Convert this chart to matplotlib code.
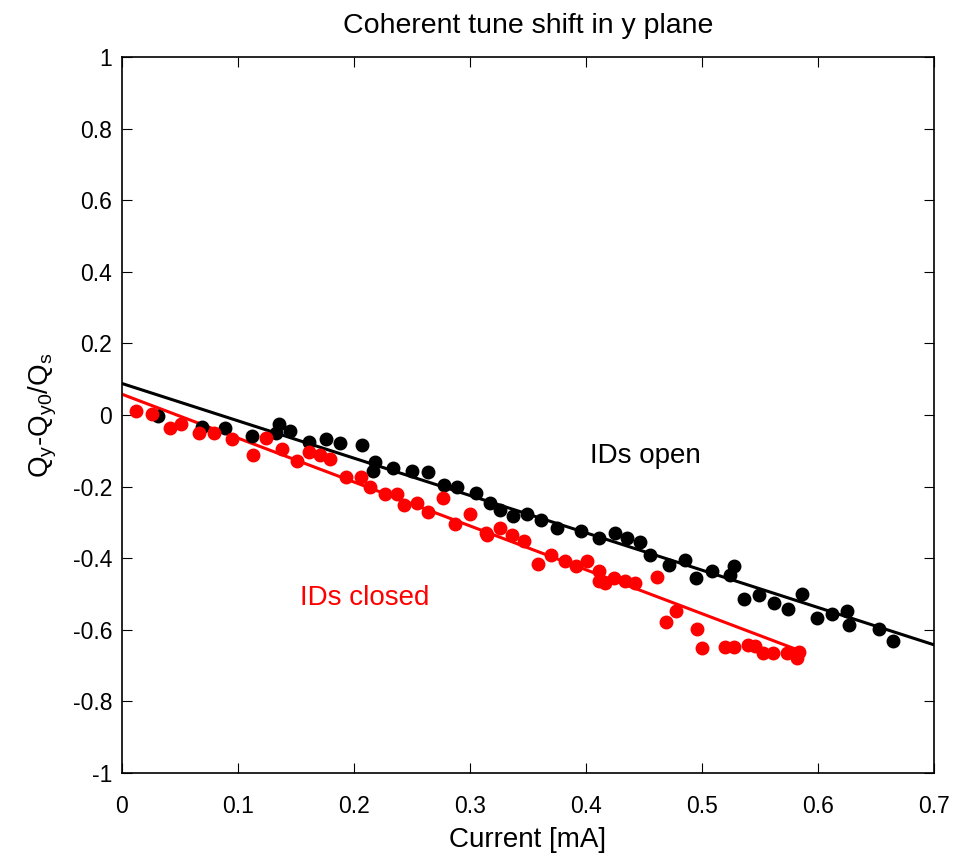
import numpy as np
import matplotlib
matplotlib.use('Agg')
import matplotlib.pyplot as plt

plt.rcParams['font.family'] = ['Liberation Sans', 'DejaVu Sans']
plt.rcParams['mathtext.default'] = 'regular'

# IDs open (black)
open_x = [0.031, 0.069, 0.089, 0.112, 0.133, 0.135, 0.145, 0.161, 0.176, 0.188,
          0.207, 0.216, 0.218, 0.234, 0.250, 0.264, 0.278, 0.289, 0.305, 0.317,
          0.326, 0.337, 0.349, 0.361, 0.375, 0.396, 0.411, 0.425, 0.435, 0.447,
          0.455, 0.472, 0.485, 0.495, 0.509, 0.524, 0.528, 0.536, 0.549, 0.562,
          0.574, 0.586, 0.599, 0.612, 0.625, 0.627, 0.653, 0.665]
open_y = [-0.003, -0.033, -0.037, -0.059, -0.051, -0.026, -0.045, -0.075, -0.066, -0.079,
          -0.084, -0.156, -0.132, -0.148, -0.156, -0.158, -0.196, -0.202, -0.219, -0.247,
          -0.265, -0.282, -0.277, -0.293, -0.316, -0.323, -0.343, -0.330, -0.344, -0.356,
          -0.391, -0.419, -0.405, -0.454, -0.435, -0.447, -0.421, -0.515, -0.503, -0.524,
          -0.541, -0.501, -0.568, -0.556, -0.548, -0.587, -0.599, -0.630]

# IDs closed (red)
closed_x = [0.012, 0.026, 0.041, 0.051, 0.066, 0.079, 0.095, 0.113, 0.124, 0.138,
            0.151, 0.161, 0.171, 0.179, 0.193, 0.206, 0.214, 0.227, 0.237, 0.243,
            0.254, 0.264, 0.277, 0.287, 0.300, 0.314, 0.315, 0.326, 0.336, 0.347,
            0.359, 0.370, 0.382, 0.391, 0.401, 0.411, 0.411, 0.416, 0.424, 0.434,
            0.442, 0.461, 0.469, 0.478, 0.496, 0.500, 0.520, 0.528, 0.540, 0.546,
            0.553, 0.561, 0.573, 0.582, 0.584]
closed_y = [0.011, 0.002, -0.037, -0.026, -0.051, -0.049, -0.068, -0.112, -0.065, -0.095,
            -0.128, -0.102, -0.112, -0.124, -0.174, -0.174, -0.200, -0.221, -0.222, -0.251,
            -0.245, -0.272, -0.233, -0.305, -0.277, -0.329, -0.334, -0.317, -0.335, -0.352,
            -0.416, -0.391, -0.407, -0.422, -0.407, -0.437, -0.463, -0.468, -0.456, -0.463,
            -0.468, -0.453, -0.577, -0.547, -0.599, -0.652, -0.647, -0.647, -0.642, -0.645,
            -0.666, -0.664, -0.664, -0.680, -0.661]

# linear fits
open_fit_x = [0.0, 0.7]
open_fit_y = [0.088, -0.642]
closed_fit_x = [0.0, 0.584]
closed_fit_y = [0.058, -0.658]

fig = plt.figure(figsize=(9.55, 8.56), dpi=100)
ax = fig.add_axes([0.1277, 0.097, 0.8503, 0.8364])

ax.plot(open_fit_x, open_fit_y, color='black', lw=2.2)
ax.plot(closed_fit_x, closed_fit_y, color='red', lw=2.2)
ax.plot(open_x, open_y, 'o', color='black', ms=9, mec='black')
ax.plot(closed_x, closed_y, 'o', color='red', ms=9, mec='red')

ax.text(0.451, -0.115, 'IDs open', fontsize=20, ha='center', va='center', color='black')
ax.text(0.209, -0.511, 'IDs closed', fontsize=20, ha='center', va='center', color='red')

ax.set_xlim(0, 0.7)
ax.set_ylim(-1, 1)
ax.set_xticks(np.arange(0, 0.71, 0.1))
ax.set_xticklabels(['0', '0.1', '0.2', '0.3', '0.4', '0.5', '0.6', '0.7'])
ax.set_yticks(np.arange(-1, 1.01, 0.2))
ax.set_yticklabels(['-1', '-0.8', '-0.6', '-0.4', '-0.2', '0', '0.2', '0.4', '0.6', '0.8', '1'])
ax.tick_params(direction='in', length=7, labelsize=16.5, top=True, right=True)
ax.tick_params(axis='x', pad=16)
ax.tick_params(axis='y', pad=7)
for s in ax.spines.values():
    s.set_linewidth(1.2)

ax.set_title('Coherent tune shift in y plane', fontsize=20.5, pad=17)
ax.set_xlabel('Current [mA]', fontsize=20, labelpad=6)
ax.set_ylabel('Q$_y$-Q$_{y0}$/Q$_s$', fontsize=20, labelpad=10)

fig.savefig('out.png', dpi=100)
